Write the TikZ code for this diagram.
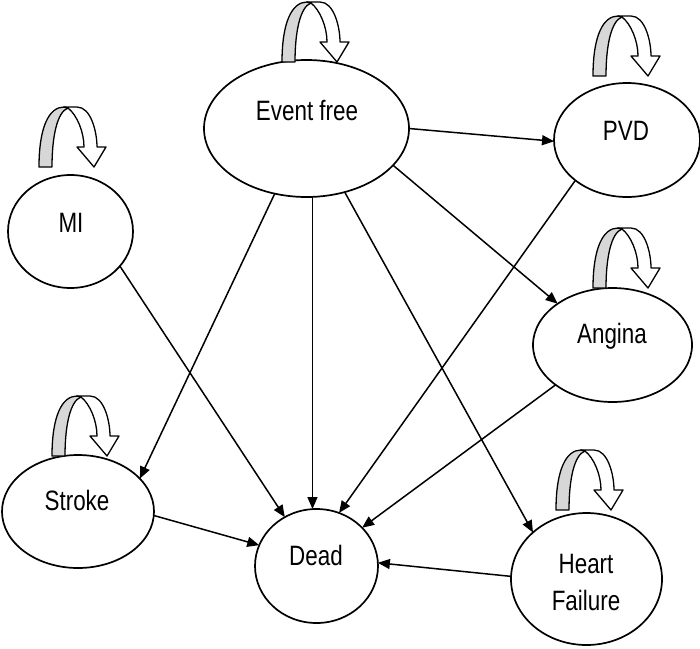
\documentclass[tikz,border=0pt]{standalone}
\usepackage{fontspec}
\setmainfont[FakeStretch=0.8]{Liberation Sans}
\usetikzlibrary{shapes.geometric,arrows.meta}
\definecolor{loopgray}{RGB}{215,215,215}
\tikzset{
  state/.style={draw, ellipse, line width=1.7pt, inner sep=0pt, outer sep=0pt},
  lbl/.style={font=\fontsize{28}{37}\selectfont, anchor=base, inner sep=0pt},
  conn/.style={line width=1.5pt, -{Triangle[length=12pt,width=10pt]}},
  loopline/.style={line width=1.3pt, line join=round},
  loopar/.pic={
    \filldraw[loopline, fill=loopgray] (0,0) .. controls (0,-40) and (10,-60) .. (25,-60) -- (29,-59) .. controls (18,-55) and (13,-30) .. (13,0) -- cycle;
    \filldraw[loopline, fill=white] (25,-60) -- (38,-60) .. controls (52,-60) and (58,-35) .. (58,-20) -- (67,-20) -- (55,0) -- (38,-20) -- (45,-20) .. controls (45,-35) and (38,-52) .. (29,-59) -- cycle;
  }
}
\begin{document}
\begin{tikzpicture}[x=1pt,y=-1pt]
\useasboundingbox (0,0) rectangle (700,648);
% states
\node[state, minimum width=205pt, minimum height=137pt] (ef) at (306.5,128.5) {};
\node[state, minimum width=125pt, minimum height=113pt] (mi) at (70.5,231.5) {};
\node[state, minimum width=146pt, minimum height=114pt] (pvd) at (627,140) {};
\node[state, minimum width=159pt, minimum height=114pt] (angina) at (612.5,345) {};
\node[state, minimum width=152pt, minimum height=113pt] (stroke) at (78,511.5) {};
\node[state, minimum width=123pt, minimum height=114pt] (dead) at (316.5,566) {};
\node[state, minimum width=151pt, minimum height=132pt] (hf) at (586.5,579) {};
% labels
\node[lbl] (eft) at (307,120) {Event free};
\node[lbl] (mit) at (71,232) {MI};
\node[lbl] (pvdt) at (626,140) {PVD};
\node[lbl] (angt) at (612,343) {Angina};
\node[lbl] (strt) at (77,510) {Stroke};
\node[lbl] (deadt) at (316,565) {Dead};
\node[lbl] (hft1) at (586,573) {Heart};
\node[lbl] (hft2) at (586,610) {Failure};
% self loops
\pic at (282,62) {loopar};
\pic at (39,167) {loopar};
\pic at (593,76) {loopar};
\pic at (593,288) {loopar};
\pic at (52,456) {loopar};
\pic at (556,510) {loopar};
% transitions
\draw[conn] (ef.244.6) -- (stroke.28.6);
\draw[conn] (ef.275.4) -- (ef.275.4 |- dead.north);
\draw[conn] (ef.301.8) -- (hf.139.3);
\draw[conn] (ef.0) -- (pvd.181);
\draw[conn] (ef.337.5) -- (angina.143.9);
\draw[conn] (mi.325.7) -- (dead.123.8);
\draw[conn] (stroke.357.4) -- (dead.160.1);
\draw[conn] (pvd.218.9) -- (dead.67.9);
\draw[conn] (angina.215.5) -- (dead.40.6);
\draw[conn] (hf.178.5) -- (dead.3.6);
\end{tikzpicture}
\end{document}
